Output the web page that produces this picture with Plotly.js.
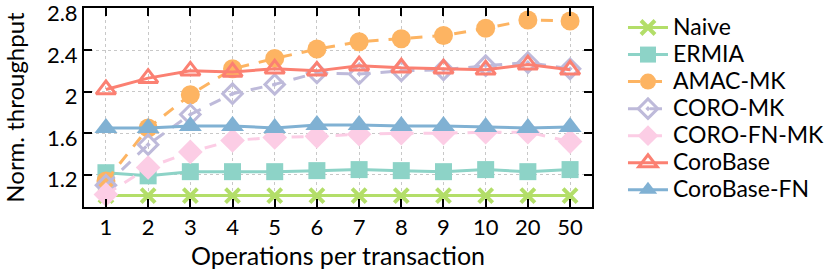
<!DOCTYPE html>
<html><head><meta charset="utf-8">
<script src="https://cdn.plot.ly/plotly-3.0.1.min.js"></script>
<style>html,body{margin:0;padding:0;background:#fff}#c{width:830px;height:274px}</style>
</head><body><div id="c"></div>
<script>
const ops = ["1","2","3","4","5","6","7","8","9","10","20","50"];
const naive = [1.0,1.0,1.0,1.0,1.0,1.0,1.0,1.0,1.0,1.0,1.0,1.0];
const ermia = [1.22,1.19,1.23,1.23,1.23,1.24,1.25,1.24,1.23,1.25,1.23,1.25];
const amacMK = [1.14,1.65,1.97,2.22,2.32,2.41,2.48,2.51,2.54,2.61,2.69,2.68];
const coroMK = [1.10,1.49,1.78,1.98,2.07,2.18,2.17,2.20,2.21,2.25,2.28,2.22];
const coroFnMK = [1.01,1.27,1.42,1.53,1.56,1.57,1.59,1.60,1.60,1.61,1.61,1.52];
const coroBase = [2.02,2.13,2.20,2.19,2.22,2.20,2.25,2.23,2.22,2.21,2.26,2.21];
const coroBaseFN = [1.65,1.65,1.67,1.67,1.65,1.68,1.68,1.67,1.67,1.66,1.65,1.66];

function tr(name, y, color, symbol, dash, size){
  return {x: ops, y: y, name: '<span style="font-size:23px">' + name + '</span>',
    type: 'scatter', mode: 'lines+markers',
    line: {color: color, width: 3, dash: dash},
    marker: {color: color, symbol: symbol, size: size, line: {color: color, width: symbol.indexOf('open')>=0 ? 3 : 0}},
    cliponaxis: false};
}
const data = [
  tr('Naive', naive, '#b3de69', 'x-thin', 'solid', 14),
  tr('ERMIA', ermia, '#8dd3c7', 'square', 'solid', 17),
  tr('AMAC-MK', amacMK, '#fdb462', 'circle', '12px,10px', 19),
  tr('CORO-MK', coroMK, '#bebada', 'diamond-open-dot', '12px,10px', 15),
  tr('CORO-FN-MK', coroFnMK, '#fccde5', 'diamond', '12px,10px', 19),
  tr('CoroBase', coroBase, '#fb8072', 'triangle-up-open', 'solid', 17),
  tr('CoroBase-FN', coroBaseFN, '#80b1d3', 'triangle-up', 'solid', 20)
];
data[0].marker.line = {color: '#b3de69', width: 4};

const fam = 'Lato, Open Sans, sans-serif';
const tickFont = {family: fam, size: 22, color: '#000'};
const xTitleFont = {family: fam, size: 25, color: '#000'};
const yTitleFont = {family: fam, size: 24, color: '#000'};
const legFont = {family: fam, size: 18.5, color: '#000'};
const layout = {
  width: 830, height: 274,
  margin: {l: 84, r: 238, t: 8, b: 67, autoexpand: false},
  paper_bgcolor: '#fff', plot_bgcolor: '#fff',
  font: tickFont,
  showlegend: true,
  legend: {x: 1.061, xanchor: 'left', y: 0.995, yanchor: 'top', font: legFont,
    tracegroupgap: 0, itemwidth: 40, bgcolor: 'rgba(0,0,0,0)'},
  xaxis: {type: 'category', range: [-0.52, 11.52],
    title: {text: 'Operations per transaction', font: xTitleFont, standoff: 6},
    showline: true, linecolor: '#000', linewidth: 2, mirror: 'ticks',
    ticks: 'inside', ticklen: 8, tickwidth: 2, tickcolor: '#000',
    showgrid: true, gridcolor: '#c8c8c8', griddash: 'dot', gridwidth: 1,
    tickfont: tickFont, zeroline: false, ticklabeloverflow: 'allow'},
  yaxis: {range: [0.89, 2.805], tickvals: [1.2, 1.6, 2.0, 2.4, 2.8], ticktext: ['1.2','1.6','2','2.4','2.8'],
    title: {text: 'Norm. throughput', font: yTitleFont, standoff: 22},
    showline: true, linecolor: '#000', linewidth: 2, mirror: 'ticks',
    ticks: 'inside', ticklen: 8, tickwidth: 2, tickcolor: '#000',
    showgrid: true, gridcolor: '#c8c8c8', griddash: 'dot', gridwidth: 1,
    tickfont: tickFont, zeroline: false, ticklabeloverflow: 'allow', ticklabelshift: 5}
};
Plotly.newPlot('c', data, layout, {displayModeBar: false, staticPlot: true});
</script></body></html>
